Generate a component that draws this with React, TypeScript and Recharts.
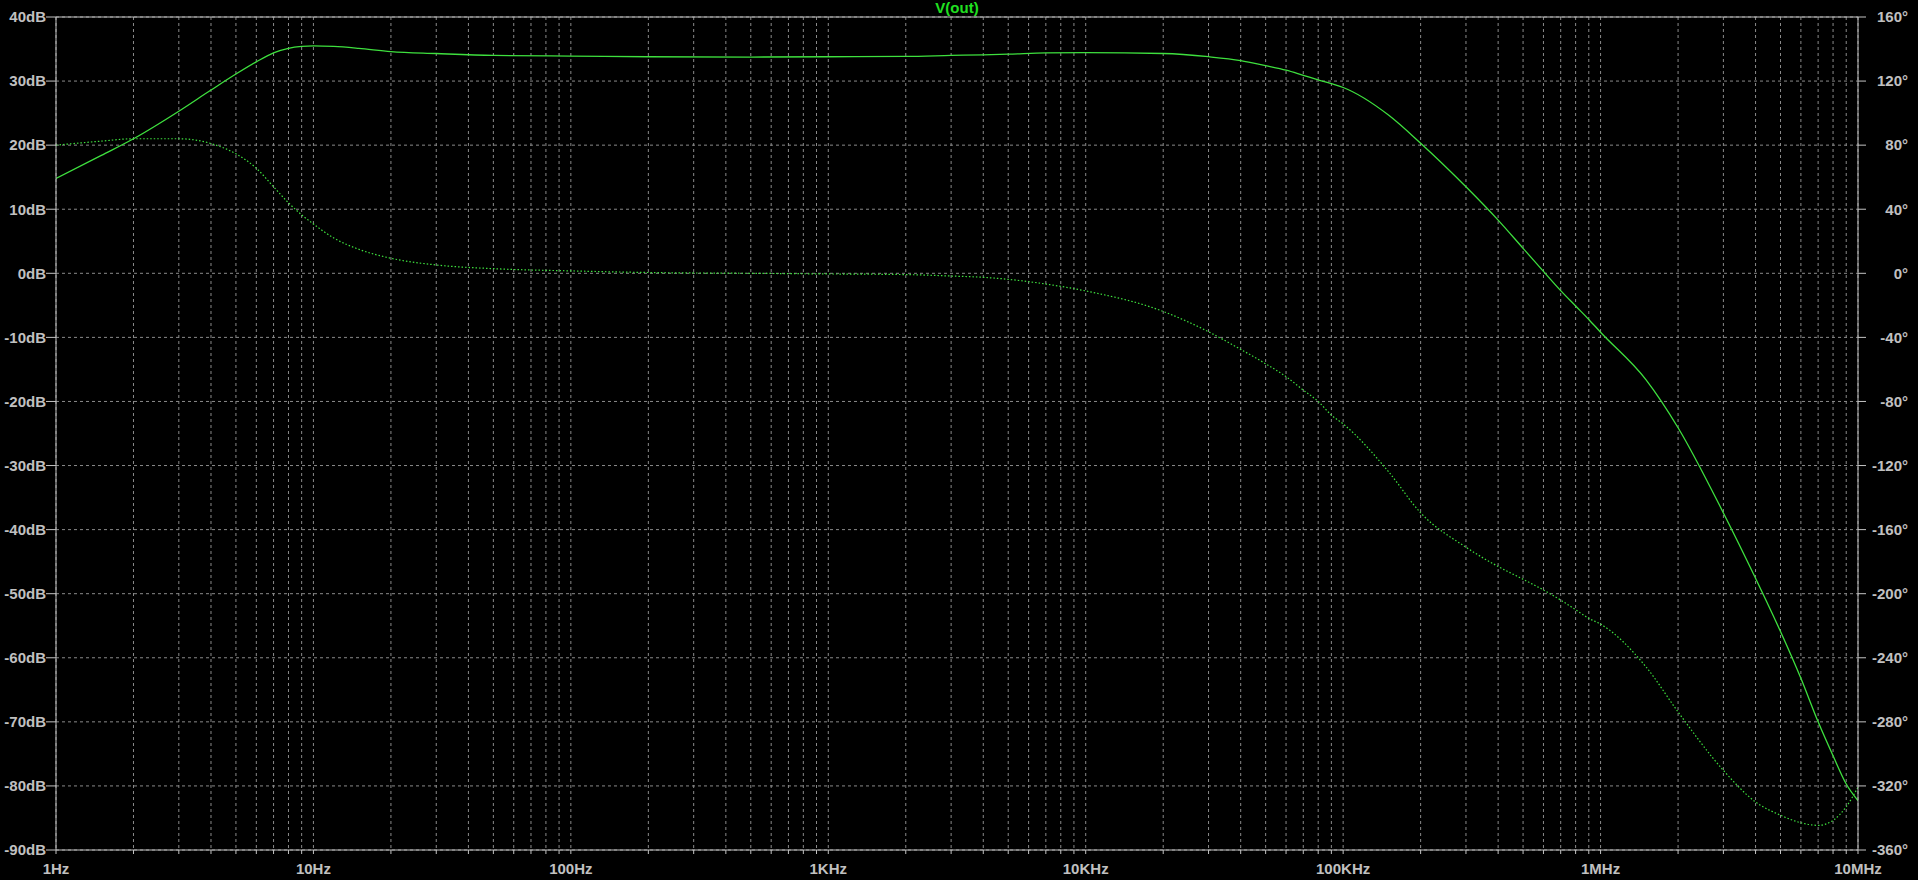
import { LineChart, Line, XAxis, YAxis, CartesianGrid, ReferenceLine } from "recharts";

// AC sweep of V(out)
const freqHz = [
  1, 1.5, 2, 3, 4, 5, 6, 7, 8, 9,
  10, 12, 15, 20, 30, 50,
  100, 200, 500,
  1e3, 2e3, 3e3, 4e3, 5e3, 7e3,
  1e4, 2e4, 3e4, 4e4, 5e4, 6e4, 7e4, 8e4, 9e4,
  1e5, 1.5e5, 2e5, 3e5, 4e5, 5e5, 6e5, 7e5, 8e5, 9e5,
  1e6, 1.5e6, 2e6, 3e6, 4e6, 5e6, 6e6, 7e6, 8e6, 9e6,
  1e7,
];

const magnitudeDb = [
  14.8, 18.4, 21.0, 25.3, 28.6, 31.1, 33.0, 34.4, 35.1, 35.4,
  35.5, 35.4, 35.1, 34.6, 34.3, 34.0,
  33.9, 33.8, 33.75,
  33.8, 33.85, 34.0, 34.1, 34.2, 34.4,
  34.45, 34.3, 33.8, 33.2, 32.4, 31.7, 30.9, 30.2, 29.6,
  29.0, 24.7, 20.3, 13.5, 8.3, 3.9, 0.3, -2.7, -5.1, -7.2,
  -9.2, -16.6, -24.1, -37.4, -47.6, -55.9, -63.2, -70.0, -75.3, -79.7,
  -82.3,
];

const phaseDeg = [
  80, 82.5, 84, 84, 81, 74.6, 65.6, 54, 44, 36.5,
  30.8, 22, 15, 9.4, 5.2, 2.9,
  1.5, 0.5, 0,
  -0.4, -0.8, -1.7, -2.5, -3.75, -6.7,
  -11, -23.8, -36.5, -47.5, -56.5, -64.5, -72.9, -80, -88.5,
  -94, -123.8, -149.5, -171, -183, -191, -197.7, -204, -210, -215.4,
  -219, -245.6, -273.8, -310.3, -330, -338.3, -343, -344.6, -341.5, -333,
  -320.8,
];

const decades = [1, 10, 100, 1e3, 1e4, 1e5, 1e6, 1e7];
const decadeLabels = ["1Hz", "10Hz", "100Hz", "1KHz", "10KHz", "100KHz", "1MHz", "10MHz"];
const dbTicks = [-90, -80, -70, -60, -50, -40, -30, -20, -10, 0, 10, 20, 30, 40];
const degTicks = [-360, -320, -280, -240, -200, -160, -120, -80, -40, 0, 40, 80, 120, 160];

const data = freqHz.map((f, i) => ({ f, mag: magnitudeDb[i], phase: phaseDeg[i] }));

// every 1..9 x 10^n for the log grid, labels only on decades
const freqTicks: number[] = [];
decades.forEach((d, i) => {
  if (i === decades.length - 1) {
    freqTicks.push(d);
    return;
  }
  for (let m = 1; m <= 9; m++) freqTicks.push(d * m);
});

const FONT = "'Liberation Sans', Arial, sans-serif";
const LABEL = "#c0c0c0";
const FRAME = "#c4c4c4";
const GRID = "#8a8a8a";
const TRACE = "#3ee03e";

const formatFreq = (v: number) => {
  const idx = decades.findIndex((d) => Math.abs(d - v) < d * 1e-6);
  return idx >= 0 ? decadeLabels[idx] : "";
};

const RightTick = (props: any) => {
  const { x, y, payload } = props;
  return (
    <text x={x + 40} y={y} dy="0.355em" textAnchor="end" fill={LABEL} fontSize={15} fontWeight="bold" fontFamily={FONT}>
      {`${payload.value}°`}
    </text>
  );
};

export default function App() {
  return (
    <div style={{ position: "fixed", left: 0, top: 0, width: 1918, height: 880, background: "#000", overflow: "hidden" }}>
      <div
        style={{
          position: "absolute",
          top: 0,
          left: 56,
          width: 1802,
          textAlign: "center",
          color: "#20e020",
          fontFamily: FONT,
          fontWeight: "bold",
          fontSize: 15,
          lineHeight: "15px",
        }}
      >
        V(out)
      </div>
      <LineChart width={1918} height={880} data={data} margin={{ top: 17, right: 0, bottom: 0, left: 0 }}>
        <CartesianGrid yAxisId="left" stroke={GRID} strokeDasharray="3 3" />
        <XAxis
          dataKey="f"
          type="number"
          scale="log"
          domain={[1, 1e7]}
          ticks={freqTicks}
          interval={0}
          height={30}
          tickFormatter={formatFreq}
          tickSize={4}
          tickMargin={9}
          stroke={FRAME}
          tick={{ fill: LABEL, fontSize: 15, fontWeight: "bold", fontFamily: FONT }}
          allowDataOverflow
        />
        <YAxis
          yAxisId="left"
          domain={[-90, 40]}
          ticks={dbTicks}
          interval={0}
          width={56}
          tickFormatter={(v) => `${v}dB`}
          tickSize={10}
          tickMargin={0}
          stroke={FRAME}
          tick={{ fill: LABEL, fontSize: 15, fontWeight: "bold", fontFamily: FONT }}
          allowDataOverflow
        />
        <YAxis
          yAxisId="right"
          orientation="right"
          domain={[-360, 160]}
          ticks={degTicks}
          interval={0}
          width={60}
          tickSize={8}
          tickMargin={2}
          stroke={FRAME}
          tick={<RightTick />}
          allowDataOverflow
        />
        <ReferenceLine yAxisId="left" y={40} stroke={FRAME} strokeWidth={1} />
        <Line
          yAxisId="right"
          dataKey="phase"
          type="monotone"
          stroke={TRACE}
          strokeWidth={1.2}
          strokeDasharray="1.5 2"
          dot={false}
          isAnimationActive={false}
        />
        <Line
          yAxisId="left"
          dataKey="mag"
          type="monotone"
          stroke={TRACE}
          strokeWidth={1.3}
          dot={false}
          isAnimationActive={false}
        />
      </LineChart>
    </div>
  );
}
